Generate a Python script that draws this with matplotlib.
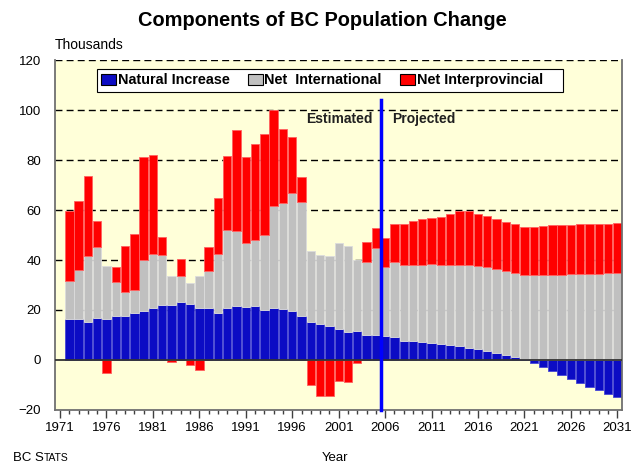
import matplotlib.pyplot as plt
import numpy as np
from matplotlib.patches import Patch

plt.rcParams['font.family'] = ['Liberation Sans', 'DejaVu Sans']

# data (thousands), 1972-2031
years = np.arange(1972, 2032)

natural = [16.5, 16.5, 15.3, 16.8, 16.5, 17.7, 17.5, 18.8, 19.4, 20.9,
           22.1, 21.9, 23.1, 22.5, 20.8, 20.8, 18.9, 20.8, 21.7, 21.1,
           21.4, 20.1, 20.8, 20.5, 19.6, 17.6, 15.3, 14.5, 13.6, 12.4,
           11.1, 11.6, 10.1, 10.1, 9.7, 9.1, 7.6, 7.4, 7.0, 6.6,
           6.2, 5.9, 5.4, 4.8, 4.3, 3.7, 2.9, 2.1, 1.0, 0.3,
           -1.4, -3.0, -4.6, -6.2, -7.8, -9.2, -10.7, -12.1, -13.6, -15.0]

international = [15.1, 19.5, 26.5, 28.4, 21.2, 13.4, 9.5, 9.0, 20.8, 21.7,
                 19.8, 11.6, 10.5, 8.4, 12.9, 14.7, 23.7, 31.1, 30.1, 25.7,
                 26.5, 29.8, 40.7, 42.4, 47.4, 45.7, 28.5, 27.4, 27.9, 34.3,
                 34.4, 28.6, 29.1, 34.8, 27.6, 30.2, 30.4, 30.8, 31.2, 31.9,
                 32.0, 32.2, 32.8, 33.2, 33.3, 33.5, 33.6, 33.5, 33.8, 33.6,
                 33.9, 34.0, 34.0, 34.0, 34.3, 34.4, 34.4, 34.5, 34.7, 34.9]

interprov = [28.2, 27.5, 31.8, 10.3, -5.1, 6.2, 18.6, 22.6, 41.2, 39.5,
             7.3, -0.7, 6.9, -2.1, -4.0, 9.7, 22.1, 29.9, 40.4, 34.4,
             38.7, 40.4, 38.4, 29.7, 22.3, 10.1, -10.1, -14.6, -14.6, -8.5,
             -8.8, -1.1, 8.0, 7.8, 11.4, 15.0, 16.6, 17.3, 18.1, 18.3,
             19.0, 20.3, 21.6, 21.7, 21.0, 20.4, 19.8, 19.7, 19.6, 19.3,
             19.5, 19.8, 19.9, 19.9, 19.9, 20.0, 20.0, 20.1, 19.9, 19.8]

series = [natural, international, interprov]
names = ['Natural Increase', 'Net  International', 'Net Interprovincial    ']
colors = ['#0c0cc4', '#c0c0c0', '#ff0000']
edges = ['#4646d6', '#dcdcdc', '#ff6060']

fig = plt.figure(figsize=(6.39, 4.66), dpi=100)
ax = fig.add_axes([0.0861, 0.1202, 0.8873, 0.751])
ax.set_facecolor('#ffffd9')

# stack positives up from zero, negatives down from zero
pos = np.zeros(len(years))
neg = np.zeros(len(years))
for vals, c, e in zip(series, colors, edges):
    v = np.array(vals)
    base = np.where(v >= 0, pos, neg)
    ax.bar(years, v, 0.9, bottom=base, color=c, edgecolor=e, linewidth=0.6, zorder=2)
    pos = pos + np.where(v >= 0, v, 0)
    neg = neg + np.where(v < 0, v, 0)

for yv in [20, 40, 60, 80, 100, 120]:
    ax.axhline(yv, color='black', lw=1, dashes=(5, 3), zorder=1)
ax.axhline(0, color='#333333', lw=1.3, zorder=3)

ax.plot([2005.55, 2005.55], [104, -20], color='#0000ff', lw=2.5, zorder=4, clip_on=False)
ax.text(2004.6, 96.5, 'Estimated', ha='right', va='center', fontsize=10, fontweight='bold', color='#202020')
ax.text(2006.8, 96.5, 'Projected', ha='left', va='center', fontsize=10, fontweight='bold', color='#202020')

ax.set_xlim(1970.46, 2031.5)
ax.set_ylim(-20, 120)
ax.set_yticks(range(-20, 121, 20))
ax.set_xticks(range(1971, 2032, 5))
ax.set_xticks(range(1971, 2032), minor=True)
ax.tick_params(axis='y', length=0, pad=10, labelsize=9.5)
ax.tick_params(axis='x', which='major', length=6, width=1, color='#404040', pad=3, labelsize=9.5)
ax.tick_params(axis='x', which='minor', length=3, width=1, color='#404040')

ax.spines['top'].set_visible(False)
for s in ['left', 'right', 'bottom']:
    ax.spines[s].set_color('#707070')
    ax.spines[s].set_linewidth(1.3)

handles = [Patch(facecolor=c, edgecolor='black', linewidth=0.8) for c in colors]
leg = ax.legend(handles, names, ncol=3, loc='upper left', bbox_to_anchor=(0.074, 0.974),
                frameon=True, fancybox=False, edgecolor='black', framealpha=1,
                prop={'weight': 'bold', 'size': 10.4}, handlelength=1.05, handleheight=0.85,
                handletextpad=0.1, columnspacing=1.25, borderpad=0.3, borderaxespad=0)
leg.get_frame().set_linewidth(0.8)
leg.set_zorder(5)

fig.text(0.505, 0.957, 'Components of BC Population Change', ha='center', va='center',
         fontsize=14.4, fontweight='bold')
fig.text(0.086, 0.903, 'Thousands', ha='left', va='center', fontsize=10)
fig.text(0.525, 0.017, 'Year', ha='center', va='center', fontsize=9.5)
t = fig.text(0.02, 0.017, 'BC S', ha='left', va='center', fontsize=9.5)
fig.canvas.draw()
bb = t.get_window_extent()
fig.text(bb.x1 / fig.bbox.width, 0.017, 'TATS', ha='left', va='center', fontsize=7.5)

fig.savefig('out.png', dpi=100)
